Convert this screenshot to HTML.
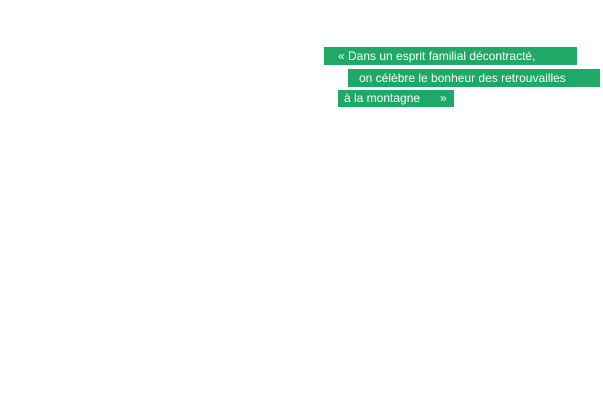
<!DOCTYPE html>
<html><head><meta charset="utf-8"><style>
html,body{margin:0;padding:0;width:603px;height:403px;background:#fff;overflow:hidden}
.b{position:absolute;background:#1fa866;color:#fff;font-family:"Liberation Sans Narrow","Liberation Sans",sans-serif;font-size:12px;line-height:18px;white-space:nowrap;box-sizing:border-box}
</style></head><body>
<div class="b" style="left:324px;top:47px;width:253px;height:18px;padding-left:14px">«&nbsp;Dans un esprit familial décontracté,</div>
<div class="b" style="left:348px;top:69px;width:252px;height:18px;padding-left:11px">on célèbre le bonheur des retrouvailles</div>
<div class="b" style="left:338px;top:90px;width:116px;height:17px;padding-left:6px;line-height:17px">à la montagne&nbsp;&nbsp;&nbsp;&nbsp;&nbsp;&nbsp;»</div>
</body></html>
